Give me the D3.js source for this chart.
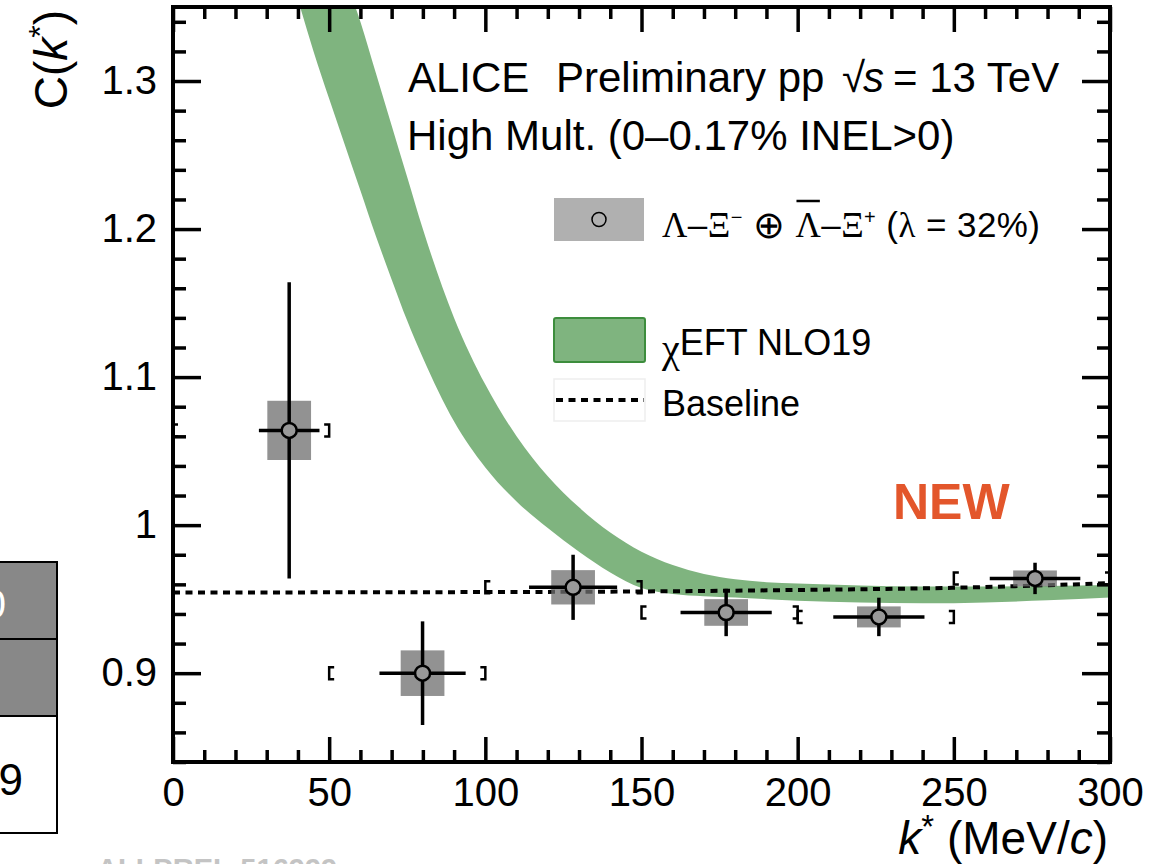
<!DOCTYPE html>
<html>
<head>
<meta charset="utf-8">
<script src="https://cdn.jsdelivr.net/npm/d3@7"></script>
<style>
  html, body { margin: 0; padding: 0; background: #fff; }
  svg { display: block; }
  text { font-family: "Liberation Sans", Arial, Helvetica, sans-serif; }
</style>
</head>
<body>
<svg id="chart" width="1158" height="864"></svg>
<script>
// Λ–Ξ correlation function, measured points
const kStar   = [37.2, 79.9, 128.1, 177.1, 226.0, 276.0];
const corr    = [1.064, 0.900, 0.958, 0.941, 0.938, 0.964];
const statErr = [0.100, 0.035, 0.022, 0.016, 0.013, 0.0106];
const kErr    = [9.7, 13.8, 14.1, 14.6, 14.6, 14.5];
const sysErr  = [0.020, 0.0154, 0.0116, 0.009, 0.0071, 0.0054];
const binLow  = [0, 50, 100, 150, 200, 250];
const binHigh = [50, 100, 150, 200, 250, 300];

// χEFT NLO19 prediction band
const bandK     = [35, 40, 45, 50, 55, 60, 65, 70, 75, 80, 90, 100, 110, 120, 130, 140, 150, 160, 170, 180, 190, 200, 220, 240, 260, 280, 300];
const bandLower = [1.39, 1.355, 1.32, 1.288, 1.257, 1.226, 1.195, 1.166, 1.138, 1.113, 1.07, 1.039, 1.016, 0.998, 0.982, 0.968, 0.9575, 0.9535, 0.952, 0.9511, 0.950, 0.949, 0.9478, 0.9472, 0.9478, 0.9492, 0.9511];
const bandUpper = [1.50, 1.47, 1.435, 1.40, 1.37, 1.34, 1.305, 1.27, 1.235, 1.20, 1.14, 1.095, 1.06, 1.033, 1.012, 0.995, 0.982, 0.973, 0.967, 0.9635, 0.9615, 0.9605, 0.9592, 0.9585, 0.9585, 0.9589, 0.9595];

// Non-femtoscopic baseline
const baseK = [0, 50, 100, 150, 200, 250, 300];
const baseC = [0.9545, 0.9546, 0.9548, 0.9552, 0.9562, 0.9577, 0.9608];

// Axis ticks
const xMajor = [0, 50, 100, 150, 200, 250, 300];
const yMajor = [0.9, 1.0, 1.1, 1.2, 1.3];
const yMajorLabels = ["0.9", "1", "1.1", "1.2", "1.3"];

const svg = d3.select("#chart");
const W = 1158, H = 864;
const plot = { left: 173, right: 1110, top: 7, bottom: 762 };

const x = d3.scaleLinear().domain([0, 300]).range([plot.left, plot.right]);
const y = d3.scaleLinear().domain([0.84, 1.35]).range([plot.bottom, plot.top]);

svg.append("rect").attr("width", W).attr("height", H).attr("fill", "#fff");

// Fragment of the neighbouring panel's table on the far left
const tbl = svg.append("g");
tbl.append("rect").attr("x", -4).attr("y", 562).attr("width", 61).attr("height", 77)
  .attr("fill", "#888").attr("stroke", "#000").attr("stroke-width", 2);
tbl.append("rect").attr("x", -4).attr("y", 639).attr("width", 61).attr("height", 77)
  .attr("fill", "#888").attr("stroke", "#000").attr("stroke-width", 2);
tbl.append("rect").attr("x", -4).attr("y", 716).attr("width", 61).attr("height", 117)
  .attr("fill", "#fff").attr("stroke", "#000").attr("stroke-width", 2);
tbl.append("text").attr("x", 6).attr("y", 618).attr("text-anchor", "end")
  .attr("font-size", 40).attr("fill", "#fff").text("0");
tbl.append("text").attr("x", 23).attr("y", 795).attr("text-anchor", "end")
  .attr("font-size", 44).attr("fill", "#000").text("9");

// Preliminary figure tag
svg.append("text").attr("x", 97).attr("y", 879).attr("font-size", 29).attr("font-weight", "bold")
  .attr("fill", "#c4c4c4").text("ALI-PREL-516999");

// Clip region
svg.append("clipPath").attr("id", "plotClip").append("rect")
  .attr("x", plot.left).attr("y", plot.top)
  .attr("width", plot.right - plot.left).attr("height", plot.bottom - plot.top);

const inner = svg.append("g").attr("clip-path", "url(#plotClip)");

// Theory band
const bandData = bandK.map((k, i) => ({ k, lo: bandLower[i], hi: bandUpper[i] }));
const area = d3.area().x(d => x(d.k)).y0(d => y(d.lo)).y1(d => y(d.hi)).curve(d3.curveMonotoneX);
inner.append("path").datum(bandData).attr("d", area).attr("fill", "#7fb47f");

// Baseline
const baseData = baseK.map((k, i) => ({ k, c: baseC[i] }));
inner.append("path").datum(baseData)
  .attr("d", d3.line().x(d => x(d.k)).y(d => y(d.c)).curve(d3.curveMonotoneX))
  .attr("fill", "none").attr("stroke", "#000").attr("stroke-width", 4)
  .attr("stroke-dasharray", "7,5.5");

const pts = kStar.map((k, i) => ({
  k, c: corr[i], se: statErr[i], ke: kErr[i], sy: sysErr[i], lo: binLow[i], hi: binHigh[i]
}));
const boxHalf = 7;

// Systematic boxes
inner.selectAll("rect.sys").data(pts).join("rect").attr("class", "sys")
  .attr("x", d => x(d.k - boxHalf)).attr("width", d => x(d.k + boxHalf) - x(d.k - boxHalf))
  .attr("y", d => y(d.c + d.sy)).attr("height", d => y(d.c - d.sy) - y(d.c + d.sy))
  .attr("fill", "#707070").attr("fill-opacity", 0.76);

// Bin-edge brackets
const br = 6, bs = 5;
inner.selectAll("path.bl").data(pts).join("path").attr("class", "bl")
  .attr("d", d => `M${x(d.lo) + bs},${y(d.c) - br} H${x(d.lo)} V${y(d.c) + br} H${x(d.lo) + bs}`)
  .attr("fill", "none").attr("stroke", "#000").attr("stroke-width", 2.5);
inner.selectAll("path.bh").data(pts).join("path").attr("class", "bh")
  .attr("d", d => `M${x(d.hi) - bs},${y(d.c) - br} H${x(d.hi)} V${y(d.c) + br} H${x(d.hi) - bs}`)
  .attr("fill", "none").attr("stroke", "#000").attr("stroke-width", 2.5);

// Statistical error bars
inner.selectAll("line.ev").data(pts).join("line").attr("class", "ev")
  .attr("x1", d => x(d.k)).attr("x2", d => x(d.k))
  .attr("y1", d => y(d.c + d.se)).attr("y2", d => y(d.c - d.se))
  .attr("stroke", "#000").attr("stroke-width", 3.5);
inner.selectAll("line.eh").data(pts).join("line").attr("class", "eh")
  .attr("x1", d => x(d.k - d.ke)).attr("x2", d => x(d.k + d.ke))
  .attr("y1", d => y(d.c)).attr("y2", d => y(d.c))
  .attr("stroke", "#000").attr("stroke-width", 3.5);

// Markers
inner.selectAll("circle.pt").data(pts).join("circle").attr("class", "pt")
  .attr("cx", d => x(d.k)).attr("cy", d => y(d.c)).attr("r", 7.5)
  .attr("fill", "#999").attr("stroke", "#000").attr("stroke-width", 2.5);

// Axes (ticks pointing inward)
function styleAxis(g) {
  g.select(".domain").remove();
  g.selectAll(".tick line").attr("stroke", "#000").attr("stroke-width", 3.5);
  g.selectAll("text").attr("font-size", 40).attr("fill", "#000")
    .attr("font-family", "'Liberation Sans', Arial, sans-serif");
}
const xMinor = d3.range(0, 301, 10).filter(v => v % 50 !== 0);
const yMinor = d3.range(0.84, 1.351, 0.02).map(v => +v.toFixed(2)).filter(v => Math.abs(v * 10 - Math.round(v * 10)) > 1e-6);

svg.append("g").attr("transform", `translate(0,${plot.bottom})`)
  .call(d3.axisBottom(x).tickValues(xMajor).tickSize(-25).tickPadding(16).tickFormat(d3.format("d")))
  .call(styleAxis);
svg.append("g").attr("transform", `translate(0,${plot.bottom})`)
  .call(d3.axisBottom(x).tickValues(xMinor).tickSize(-12).tickFormat(""))
  .call(styleAxis);
svg.append("g").attr("transform", `translate(0,${plot.top})`)
  .call(d3.axisTop(x).tickValues(xMajor).tickSize(-25).tickFormat(""))
  .call(styleAxis);
svg.append("g").attr("transform", `translate(0,${plot.top})`)
  .call(d3.axisTop(x).tickValues(xMinor).tickSize(-12).tickFormat(""))
  .call(styleAxis);

svg.append("g").attr("transform", `translate(${plot.left},0)`)
  .call(d3.axisLeft(y).tickValues(yMajor).tickSize(-28).tickPadding(16)
    .tickFormat((d, i) => yMajorLabels[i]))
  .call(styleAxis);
svg.append("g").attr("transform", `translate(${plot.left},0)`)
  .call(d3.axisLeft(y).tickValues(yMinor).tickSize(-13).tickFormat(""))
  .call(styleAxis);
svg.append("g").attr("transform", `translate(${plot.right},0)`)
  .call(d3.axisRight(y).tickValues(yMajor).tickSize(-28).tickFormat(""))
  .call(styleAxis);
svg.append("g").attr("transform", `translate(${plot.right},0)`)
  .call(d3.axisRight(y).tickValues(yMinor).tickSize(-13).tickFormat(""))
  .call(styleAxis);

// Frame
svg.append("rect").attr("x", plot.left).attr("y", plot.top)
  .attr("width", plot.right - plot.left).attr("height", plot.bottom - plot.top)
  .attr("fill", "none").attr("stroke", "#000").attr("stroke-width", 4);

// Axis titles
const yt = svg.append("text").attr("transform", "translate(67,10) rotate(-90)")
  .attr("text-anchor", "end").attr("font-size", 46);
yt.append("tspan").text("C(");
yt.append("tspan").attr("font-style", "italic").text("k");
yt.append("tspan").attr("dy", -16).attr("font-size", 32).text("*");
yt.append("tspan").attr("dy", 16).text(")");

const xt = svg.append("text").attr("x", 1108).attr("y", 854)
  .attr("text-anchor", "end").attr("font-size", 46);
xt.append("tspan").attr("font-style", "italic").text("k");
xt.append("tspan").attr("dy", -16).attr("font-size", 33).text("*");
xt.append("tspan").attr("dy", 16).text(" (MeV/");
xt.append("tspan").attr("font-style", "italic").text("c");
xt.append("tspan").text(")");

// Header
const h1 = svg.append("text").attr("y", 92).attr("font-size", 42);
h1.append("tspan").attr("x", 408).text("ALICE");
h1.append("tspan").attr("x", 556).text("Preliminary pp");
h1.append("tspan").attr("x", 842).text("\u221A");
h1.append("tspan").attr("x", 863).attr("font-style", "italic").text("s");
h1.append("tspan").attr("x", 893).text("= 13 TeV");
svg.append("text").attr("x", 407).attr("y", 150).attr("font-size", 42)
  .text("High Mult. (0\u20130.17% INEL>0)");

// Legend
const serif = "'Liberation Serif', 'Times New Roman', serif";
svg.append("rect").attr("x", 554).attr("y", 198).attr("width", 90).attr("height", 43).attr("fill", "#b0b0b0");
svg.append("circle").attr("cx", 599).attr("cy", 219.5).attr("r", 7)
  .attr("fill", "none").attr("stroke", "#000").attr("stroke-width", 1.5);

const l1 = svg.append("text").attr("x", 662).attr("y", 237).attr("font-size", 35)
  .attr("textLength", 378).attr("lengthAdjust", "spacing");
l1.append("tspan").attr("font-family", serif).text("\u039B");
l1.append("tspan").text("\u2013");
l1.append("tspan").attr("font-family", serif).text("\u039E");
l1.append("tspan").attr("dy", -13).attr("font-size", 20).text("\u2212");
l1.append("tspan").attr("dy", 13).text(" ");
l1.append("tspan").attr("font-family", serif).attr("font-size", 38).attr("dy", 1).text("\u2295");
l1.append("tspan").attr("dy", -1).text(" ");
l1.append("tspan").attr("font-family", serif).text("\u039B");
l1.append("tspan").text("\u2013");
l1.append("tspan").attr("font-family", serif).text("\u039E");
l1.append("tspan").attr("dy", -13).attr("font-size", 20).text("+");
l1.append("tspan").attr("dy", 13).text(" (");
l1.append("tspan").attr("font-family", serif).text("\u03BB");
l1.append("tspan").text(" = 32%)");

// Overline for the antiparticle symbol
{
  const node = l1.node();
  const idx = "\u039B\u2013\u039E\u2212 \u2295 ".length;
  const ext = node.getExtentOfChar(idx);
  svg.append("line").attr("x1", ext.x + 1).attr("x2", ext.x + ext.width - 1)
    .attr("y1", 201).attr("y2", 201)
    .attr("stroke", "#000").attr("stroke-width", 2.5);
}

svg.append("rect").attr("x", 554).attr("y", 318).attr("width", 91).attr("height", 44).attr("rx", 2)
  .attr("fill", "#7fb47f").attr("stroke", "#3d8d3d").attr("stroke-width", 2);
const l2 = svg.append("text").attr("x", 662).attr("y", 355).attr("font-size", 36);
l2.append("tspan").attr("font-family", serif).attr("font-size", 40).attr("dy", 7).text("\u03C7");
l2.append("tspan").attr("dy", -7).text("EFT NLO19");

svg.append("rect").attr("x", 554).attr("y", 379).attr("width", 91).attr("height", 42)
  .attr("fill", "#fff").attr("stroke", "#eee").attr("stroke-width", 1.5);
svg.append("line").attr("x1", 556).attr("x2", 644).attr("y1", 400).attr("y2", 400)
  .attr("stroke", "#000").attr("stroke-width", 4).attr("stroke-dasharray", "7,5.5");
svg.append("text").attr("x", 662).attr("y", 416).attr("font-size", 36).text("Baseline");

// NEW tag
svg.append("text").attr("x", 893).attr("y", 519).attr("font-size", 50).attr("font-weight", "bold")
  .attr("fill", "#e3562b").text("NEW");
</script>
</body>
</html>
